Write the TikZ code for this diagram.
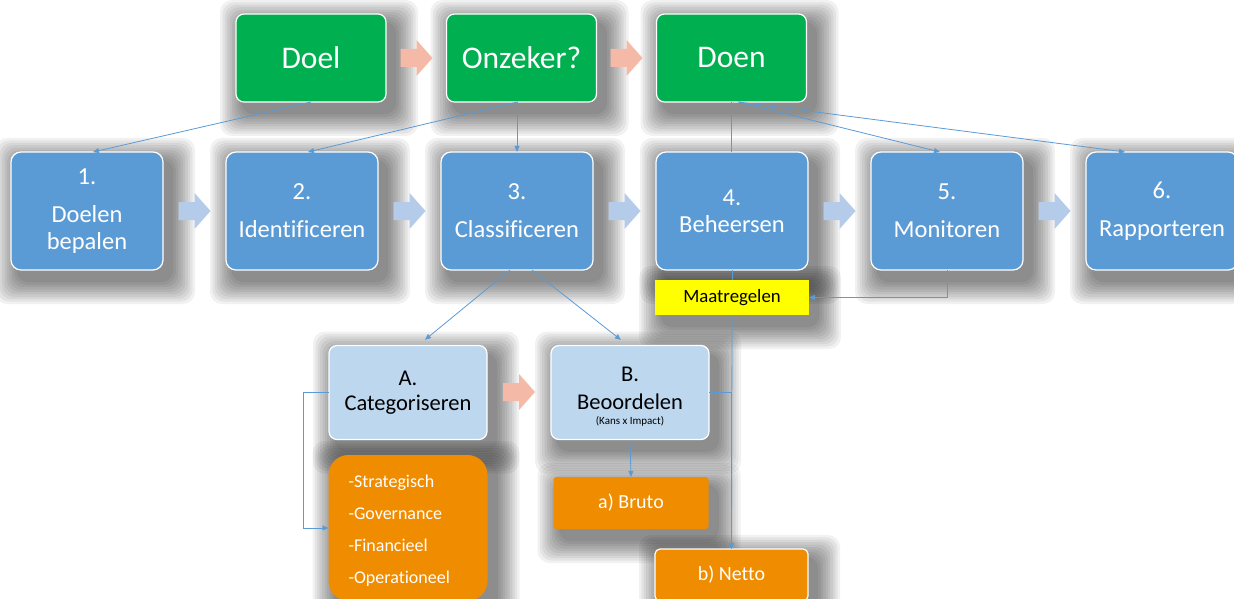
\documentclass[tikz,border=0pt]{standalone}
\usepackage{fontspec}
\setmainfont{Carlito}[Ligatures={NoCommon}]
\usetikzlibrary{arrows.meta,calc}
\pgfdeclarelayer{bgwhite}
\pgfdeclarelayer{background}
\pgfsetlayers{bgwhite,background,main}
\definecolor{gr}{RGB}{0,176,80}
\definecolor{bl}{RGB}{91,155,213}
\definecolor{lbl}{RGB}{189,215,238}
\definecolor{org}{RGB}{240,140,0}
\definecolor{yel}{RGB}{255,255,0}
\definecolor{pk}{RGB}{244,186,167}
\definecolor{pab}{RGB}{180,204,233}
\definecolor{ln}{RGB}{91,155,213}
\newcommand\softshd[1]{%
 \begin{pgfonlayer}{background}
 \foreach \r in {1,...,10}{%
  \fill[black, opacity=0.055, rounded corners=12pt]
   ($(#1.north west)+(8-2.4*\r,10-2.4*\r)$) rectangle ($(#1.south east)+(8+2.4*\r,10+2.4*\r)$);
 }
 \end{pgfonlayer}}
\tikzset{
 pics/blk/.style={code={\fill[#1] (-16,-9) -- (0,-9) -- (0,-18) -- (16,0) -- (0,18) -- (0,9) -- (-16,9) -- cycle;}},
 bxbase/.style={inner sep=0pt, outer sep=0pt},
 gbox/.style={bxbase, fill=gr, draw=white, line width=1.2pt, rounded corners=8pt, minimum width=150pt, minimum height=88pt, text=white, font=\fontsize{31.5}{34}\selectfont},
 bbox/.style={bxbase, fill=bl, draw=white, line width=1.2pt, rounded corners=10pt, minimum width=152pt, minimum height=118pt, text=white, align=center, font=\fontsize{24.5}{27}\selectfont},
 lbox/.style={bxbase, fill=lbl, draw=white, line width=1.2pt, rounded corners=8pt, minimum width=158pt, minimum height=94pt, text=black, align=center, font=\fontsize{22.5}{25}\selectfont},
 obox/.style={bxbase, fill=org, text=white, font=\fontsize{20}{24}\selectfont},
 conn/.style={draw=ln, line width=0.8pt},
 arr/.style={conn, -{Triangle[length=6pt,width=5pt]}},
}
\begin{document}
\begin{tikzpicture}[x=1pt,y=-1pt]
\begin{pgfonlayer}{bgwhite}
\fill[white] (0,0) rectangle (1234,599);
\end{pgfonlayer}
\useasboundingbox (0,0) rectangle (1234,599);
% top row
\node[gbox] (doel) at (311,58) {Doel};
\node[gbox] (onz) at (521.5,58) {Onzeker?};
\node[gbox] (doen) at (731.5,58) {Doen};
% process row
\node[bbox] (b1) at (87,211) {1.\\[11pt]Doelen\\bepalen};
\node[bbox] (b2) at (302,211) {2.\\[11pt]Identificeren};
\node[bbox] (b3) at (517,211) {3.\\[11pt]Classificeren};
\node[bbox] (b4) at (732,211) {4.\\Beheersen};
\node[bbox] (b5) at (947,211) {5.\\[11pt]Monitoren};
\node[bbox] (b6) at (1162,211) {6.\\[11pt]Rapporteren};
% maatregelen
\node[bxbase, fill=yel, minimum width=154pt, minimum height=35pt, font=\fontsize{18.8}{22}\selectfont] (maat) at (732,297.5) {Maatregelen};
% lower
\node[lbox] (A) at (408,392.5) {A.\\Categoriseren};
\node[lbox] (B) at (630,392.5) {};
\node[align=center, font=\fontsize{22.5}{28}\selectfont] (Bt) at (630,388) {B.\\Beoordelen};
\node[font=\fontsize{11}{12}\selectfont] (Bk) at (630,421) {(Kans x Impact)};
\node[obox, rounded corners=20pt, minimum width=159pt, minimum height=146pt] (list) at (408,528) {};
\node[anchor=west, align=left, text=white, font=\fontsize{18}{32}\selectfont] (lt) at (345,531) {-Strategisch\\-Governance\\-Financieel\\-Operationeel};
\node[obox, rounded corners=3pt, minimum width=155pt, minimum height=52pt] (bruto) at (631,503) {a) Bruto};
\node[obox, draw=white, line width=1.2pt, rounded corners=5pt, minimum width=153pt, minimum height=52pt] (netto) at (731.5,575) {b) Netto};
% shadows
\foreach \n in {doel,onz,doen,b1,b2,b3,b4,b5,b6,maat,A,B,list,bruto,netto}{\softshd{\n}}
% block arrows
\pic at (416.5,58) {blk=pk};
\pic at (626.5,58) {blk=pk};
\pic at (519,392) {blk=pk};
\pic at (194.5,211) {blk=pab};
\pic at (409.5,211) {blk=pab};
\pic at (624.5,211) {blk=pab};
\pic at (839.5,211) {blk=pab};
\pic at (1054.5,211) {blk=pab};
% connectors
\draw[arr] (doel.south) -- ($(b1.north)+(6,0)$);
\draw[arr] ($(onz.south)+(-4,0)$) -- ($(b2.north)+(6,0)$);
\draw[arr] (b3.north |- onz.south) -- (b3.north);
\draw[conn] (doen.south) -- (doen.south |- b4.north);
\draw[arr] ($(doen.south)+(7,0)$) -- ($(b5.north)+(-7,0)$);
\draw[arr] ($(doen.south)+(7,0)$) -- ($(b6.north)+(-37,0)$);
\draw[conn] (b4.south) -- (maat.north);
\draw[arr] (maat.south) -- (netto.north);
\draw[arr] (b5.south) |- (maat.east);
\draw[arr, shorten >=9pt] ($(b3.south)+(-7,0)$) -- ($(A.north)+(10,0)$);
\draw[arr, shorten >=9pt] ($(b3.south)+(15,0)$) -- ($(B.north)+(-2,0)$);
\draw[arr] (A.west) -- ++(-26,0) |- (list.west);
\draw[arr] (B.east) -| (netto.north);
\draw[arr, shorten <=5pt] (B.south) -- (bruto.north);
\end{tikzpicture}
\end{document}
